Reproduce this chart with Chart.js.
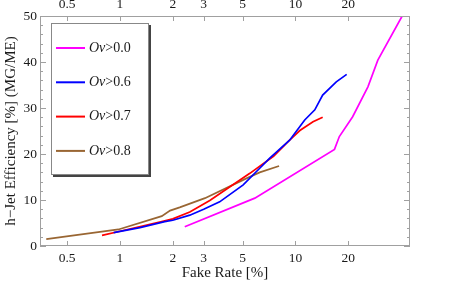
<!DOCTYPE html>
<html>
<head>
<meta charset="utf-8">
<script src="https://cdn.jsdelivr.net/npm/chart.js@4/dist/chart.umd.min.js"></script>
<style>
  html, body { margin: 0; padding: 0; background: #fff; }
  #wrap { width: 457px; height: 286px; }
</style>
</head>
<body>
<div id="wrap"><canvas id="effChart" width="457" height="286"></canvas></div>
<script>
// values (fake rate in %, efficiency in %)
const labels = ['Ov>0.0', 'Ov>0.6', 'Ov>0.7', 'Ov>0.8'];
const colors = ['#ff00ff', '#0000ff', '#ff0000', '#996633'];

const fake00 = [2.34, 5.87, 16.7, 17.8, 21.2, 25.9, 29.5, 40.6, 44];
const eff00  = [4.2, 10.4, 21.0, 23.8, 28.1, 34.6, 40.4, 50.0, 53];

const fake06 = [0.92, 1.3, 1.8, 2.0, 2.5, 3.0, 3.7, 5.04, 6.26, 7.14, 9.27, 11.3, 12.9, 14.3, 17.1, 19.6];
const eff06  = [2.9, 4.0, 5.3, 5.6, 6.7, 8.0, 9.6, 13.3, 16.9, 19.1, 23.0, 27.4, 29.6, 32.8, 35.7, 37.3];

const fake07 = [0.79, 1.0, 1.73, 2.0, 2.5, 3.25, 5.5, 7.5, 9.27, 10.6, 12.6, 14.3];
const eff07  = [2.3, 3.2, 5.3, 5.9, 7.4, 9.9, 15.8, 19.5, 23.0, 25.1, 27.0, 28.0];

const fake08 = [0.38, 0.98, 1.73, 1.93, 2.19, 3.05, 5.26, 6.26, 8.07];
const eff08  = [1.5, 3.6, 6.5, 7.7, 8.4, 10.4, 14.7, 16.0, 17.4];

const xTicks = [0.5, 1, 2, 3, 5, 10, 20];
const yTicks = [0, 10, 20, 30, 40, 50];

const serif = "'Liberation Serif', 'DejaVu Serif', serif";
const frameColor = '#a0a0a0';
const textColor = '#1a1a1a';

function zip(xs, ys) {
    return xs.map((x, i) => ({ x: x, y: ys[i] }));
}

const seriesX = [fake00, fake06, fake07, fake08];
const seriesY = [eff00, eff06, eff07, eff08];

const datasets = labels.map((lab, i) => ({
    label: lab,
    data: zip(seriesX[i], seriesY[i]),
    borderColor: colors[i],
    backgroundColor: colors[i],
    borderWidth: 1.7,
    pointRadius: 0,
    tension: 0,
    fill: false
}));

// frame, inward tick marks and the boxed legend
const framePlugin = {
    id: 'frame',
    afterDatasetsDraw(chart) {
        const c = chart.ctx;
        const a = chart.chartArea;
        const sx = chart.scales.x;
        const sy = chart.scales.y;
        c.save();
        c.strokeStyle = frameColor;
        c.lineWidth = 1;
        c.strokeRect(a.left + 0.5, a.top + 0.5, a.right - a.left - 1, a.bottom - a.top - 1);

        // x ticks, bottom and top
        xTicks.forEach(v => {
            const px = Math.round(sx.getPixelForValue(v)) + 0.5;
            c.beginPath();
            c.moveTo(px, a.bottom); c.lineTo(px, a.bottom - 5);
            c.moveTo(px, a.top); c.lineTo(px, a.top + 5);
            c.stroke();
        });
        // y ticks, left and right, minor every 2
        for (let v = 0; v <= 50; v += 2) {
            const py = Math.round(sy.getPixelForValue(v)) + 0.5;
            const len = v % 10 === 0 ? 6 : 3;
            c.beginPath();
            c.moveTo(a.left, py); c.lineTo(a.left + len, py);
            c.moveTo(a.right, py); c.lineTo(a.right - len, py);
            c.stroke();
        }

        // legend box with shadow
        const bx = 51, by = 23, bw = 98, bh = 152;
        c.fillStyle = '#444';
        c.fillRect(bx + 2, by + 2, bw, bh);
        c.fillStyle = '#fff';
        c.fillRect(bx, by, bw, bh);
        c.strokeStyle = '#888';
        c.strokeRect(bx + 0.5, by + 0.5, bw - 1, bh - 1);

        chart.data.datasets.forEach((ds, i) => {
            const yy = 48 + i * 34.3;
            c.strokeStyle = ds.borderColor;
            c.lineWidth = 2;
            c.beginPath();
            c.moveTo(56, yy); c.lineTo(85, yy);
            c.stroke();
            c.fillStyle = textColor;
            c.textBaseline = 'middle';
            c.font = 'italic 14px ' + serif;
            c.fillText('Ov', 89, yy);
            const w = c.measureText('Ov').width;
            c.font = '14px ' + serif;
            c.fillText(ds.label.slice(2), 89 + w, yy);
        });
        c.restore();
    }
};

const tickFont = { family: serif, size: 13.5 };

const config = {
    type: 'line',
    data: { datasets: datasets },
    options: {
        responsive: false,
        animation: false,
        layout: { padding: 0 },
        plugins: { legend: { display: false }, tooltip: { enabled: false } },
        scales: {
            x: {
                type: 'logarithmic',
                position: 'bottom',
                min: 0.35,
                max: 45,
                afterBuildTicks: s => { s.ticks = xTicks.map(v => ({ value: v })); },
                afterFit: s => { s.height = 40; },
                ticks: { font: tickFont, color: textColor, padding: 4, maxRotation: 0, autoSkip: false,
                         callback: v => String(v) },
                grid: { display: false, drawTicks: false },
                border: { display: false },
                title: { display: true, text: 'Fake Rate [%]', font: { family: serif, size: 15 },
                         color: textColor, padding: { top: 0, bottom: 4 } }
            },
            x2: {
                type: 'logarithmic',
                position: 'top',
                min: 0.35,
                max: 45,
                afterBuildTicks: s => { s.ticks = xTicks.map(v => ({ value: v })); },
                afterFit: s => { s.height = 16; },
                ticks: { font: tickFont, color: textColor, padding: 3, maxRotation: 0, autoSkip: false,
                         callback: v => String(v) },
                grid: { display: false, drawTicks: false },
                border: { display: false }
            },
            y: {
                type: 'linear',
                position: 'left',
                min: 0,
                max: 50,
                afterBuildTicks: s => { s.ticks = yTicks.map(v => ({ value: v })); },
                afterFit: s => { s.width = 40; },
                ticks: { font: tickFont, color: textColor, padding: 3 },
                grid: { display: false, drawTicks: false },
                border: { display: false },
                title: { display: true, text: 'h\u2212Jet Efficiency [%] (MG/ME)', font: { family: serif, size: 15 },
                         color: textColor, padding: { top: 2, bottom: 0 } }
            },
            y2: {
                type: 'linear',
                position: 'right',
                min: 0,
                max: 50,
                afterFit: s => { s.width = 47; },
                ticks: { display: false },
                grid: { display: false, drawTicks: false },
                border: { display: false }
            }
        }
    },
    plugins: [framePlugin]
};

new Chart(document.getElementById('effChart').getContext('2d'), config);
</script>
</body>
</html>
